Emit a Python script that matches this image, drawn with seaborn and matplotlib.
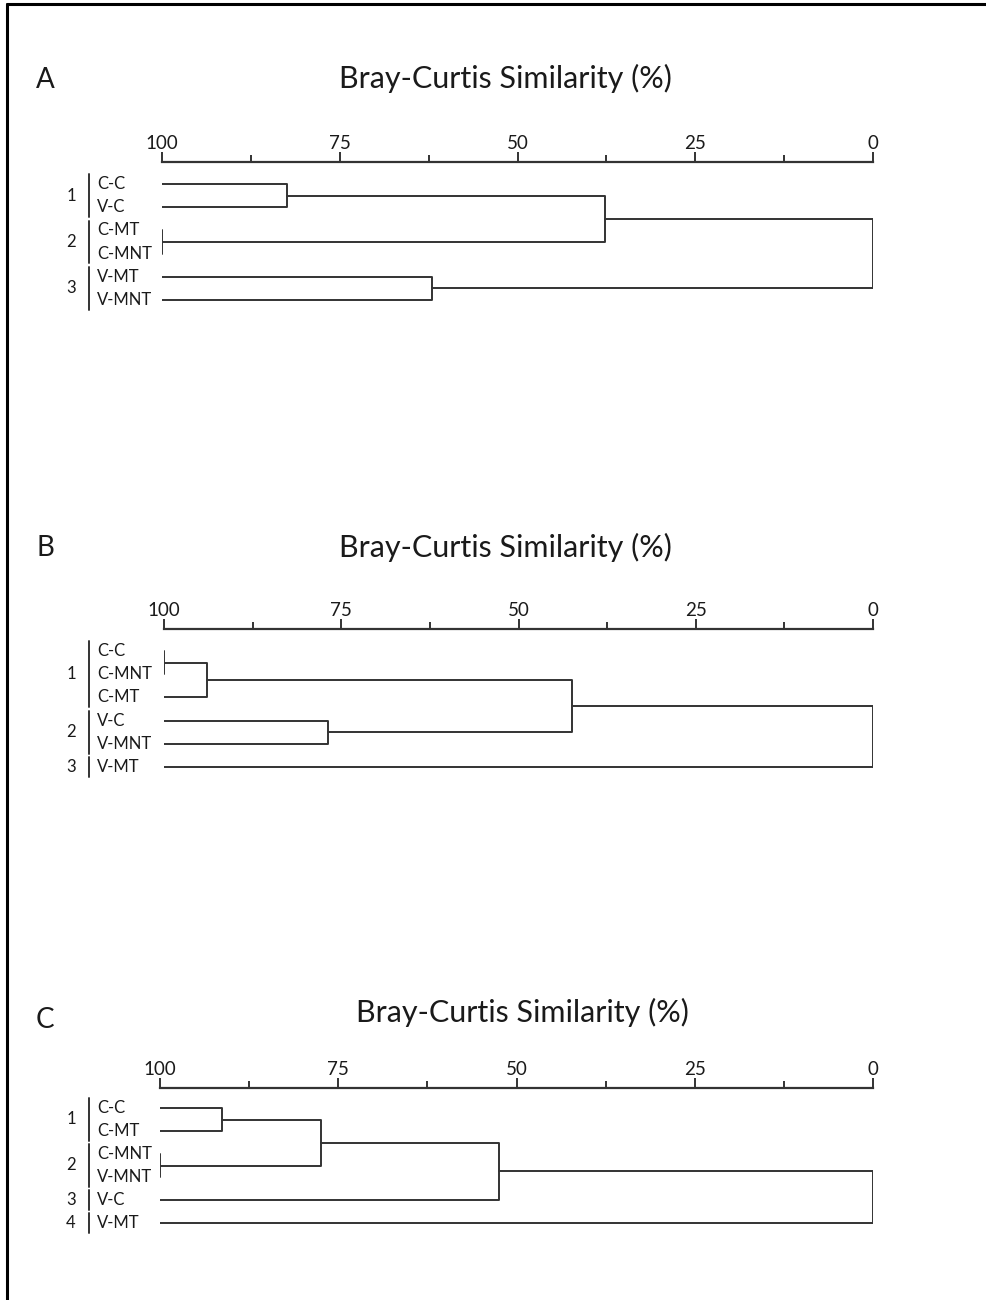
import pandas as pd
import matplotlib.pyplot as plt
import seaborn as sns
from matplotlib.lines import Line2D
from matplotlib.transforms import blended_transform_factory
from matplotlib.ticker import FixedLocator

# Panel A
a_leaves = ["C-C", "V-C", "C-MT", "C-MNT", "V-MT", "V-MNT"]
a_merges = [(0, 1, 82.4), (2, 3, 100.0), (6, 7, 37.7), (4, 5, 62.0), (8, 9, 0.0)]
a_groups = [("1", 0, 1), ("2", 2, 3), ("3", 4, 5)]

# Panel B
b_leaves = ["C-C", "C-MNT", "C-MT", "V-C", "V-MNT", "V-MT"]
b_merges = [(0, 1, 100.0), (6, 2, 93.9), (3, 4, 76.9), (7, 8, 42.4), (9, 5, 0.0)]
b_groups = [("1", 0, 2), ("2", 3, 4), ("3", 5, 5)]

# Panel C
c_leaves = ["C-C", "C-MT", "C-MNT", "V-MNT", "V-C", "V-MT"]
c_merges = [(0, 1, 91.3), (2, 3, 100.0), (6, 7, 77.4), (8, 4, 52.5), (9, 5, 0.0)]
c_groups = [("1", 0, 1), ("2", 2, 3), ("3", 4, 4), ("4", 5, 5)]

major_ticks = [100, 75, 50, 25, 0]
minor_ticks = [87.5, 62.5, 37.5, 12.5]
title = "Bray-Curtis Similarity (%)"

W, H = 986, 1300
LINE = "#333333"
TXT = "#1a1a1a"

sns.set_style("white")
plt.rcParams["font.family"] = ["Lato", "DejaVu Sans"]

fig = plt.figure(figsize=(W / 100, H / 100), dpi=100, facecolor="white")


def fx(px):
    return px / W


def fy(py):
    return 1 - py / H


def segments(leaves, merges):
    # node positions: leaves at height 100, merges at their similarity
    ypos = list(range(len(leaves)))
    hpos = [100.0] * len(leaves)
    rows = []
    for k, (i, j, h) in enumerate(merges):
        xs = [hpos[i], h, h, hpos[j]]
        ys = [ypos[i], ypos[i], ypos[j], ypos[j]]
        for o, (x, y) in enumerate(zip(xs, ys)):
            rows.append({"seg": k, "order": o, "sim": x, "pos": y})
        ypos.append((ypos[i] + ypos[j]) / 2)
        hpos.append(h)
    return pd.DataFrame(rows)


def panel(letter, leaves, merges, groups, axis_y, left, right, leaf0, step,
          title_x, title_y, letter_y):
    n = len(leaves)
    bottom_px = leaf0 + (n - 1) * step + 20
    ax = fig.add_axes([fx(left), fy(bottom_px), (right - left) / W, (bottom_px - axis_y) / H])
    df = segments(leaves, merges)
    sns.lineplot(data=df, x="sim", y="pos", units="seg", estimator=None, sort=False,
                 color=LINE, linewidth=1.4, ax=ax, legend=False)
    ax.set_xlim(100, 0)
    ax.set_ylim((bottom_px - leaf0) / step, -(leaf0 - axis_y) / step)
    ax.set_xlabel("")
    ax.set_ylabel("")
    ax.set_yticks([])
    for s in ["bottom", "left", "right"]:
        ax.spines[s].set_visible(False)
    ax.spines["top"].set_color(LINE)
    ax.spines["top"].set_linewidth(1.6)
    ax.xaxis.tick_top()
    ax.set_xticks(major_ticks)
    ax.set_xticklabels([str(t) for t in major_ticks])
    ax.xaxis.set_minor_locator(FixedLocator(minor_ticks))
    ax.tick_params(axis="x", which="major", direction="out", length=7, width=1.4,
                   color=LINE, labelsize=13.5, pad=0, labelcolor=TXT)
    ax.tick_params(axis="x", which="minor", direction="out", length=5, width=1.4,
                   color=LINE, top=True, bottom=False)
    ax.patch.set_alpha(0)

    tr = blended_transform_factory(fig.transFigure, ax.transData)
    for i, lab in enumerate(leaves):
        ax.text(fx(97), i, lab, transform=tr, ha="left", va="center",
                fontsize=12, color=TXT, clip_on=False)
    for num, a, b in groups:
        ax.add_line(Line2D([fx(89), fx(89)], [a - 0.42, b + 0.42], transform=tr,
                           color=LINE, linewidth=1.4, clip_on=False))
        ax.text(fx(71), (a + b) / 2, num, transform=tr, ha="center", va="center",
                fontsize=12, color=TXT, clip_on=False)

    fig.text(fx(title_x), fy(title_y), title, ha="center", va="center",
             fontsize=22, color=TXT)
    fig.text(fx(45), fy(letter_y), letter, ha="center", va="center",
             fontsize=20, color=TXT)


panel("A", a_leaves, a_merges, a_groups, 162, 162, 873, 184, 23.2, 505, 78, 80)
panel("B", b_leaves, b_merges, b_groups, 629, 164, 873, 651, 23.2, 505, 547, 548)
panel("C", c_leaves, c_merges, c_groups, 1088, 160, 873, 1108, 23.0, 522, 1012, 1020)

# frame lines on top and left edge
fig.add_artist(Line2D([fx(7), 1], [fy(4), fy(4)], transform=fig.transFigure,
                      color="black", linewidth=2.2))
fig.add_artist(Line2D([fx(7), fx(7)], [fy(4), 0], transform=fig.transFigure,
                      color="black", linewidth=2.2))

fig.savefig("out.png", dpi=100, facecolor="white")
